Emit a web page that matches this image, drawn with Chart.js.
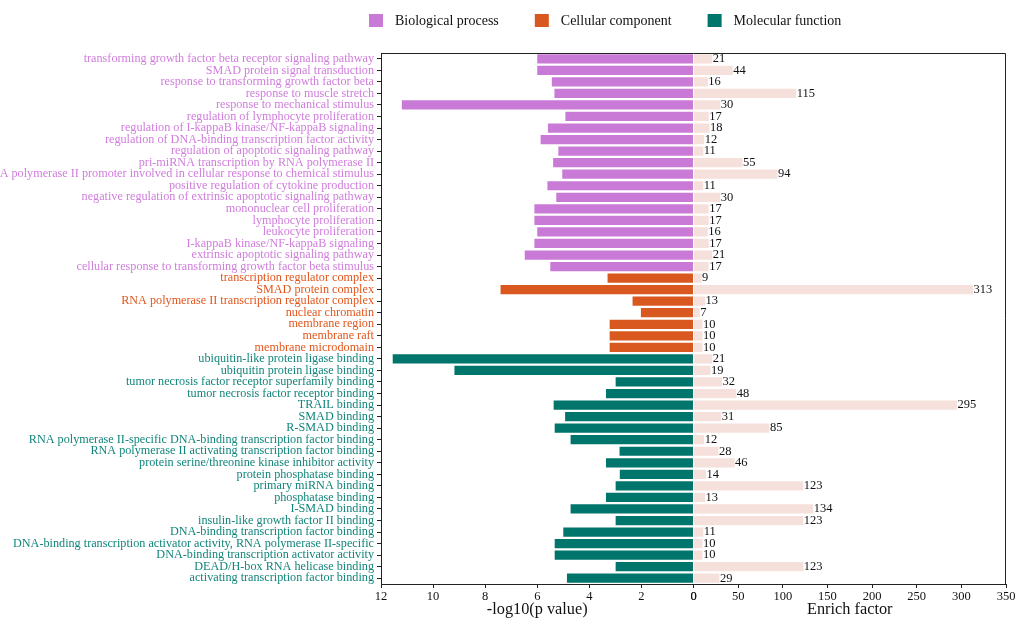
<!DOCTYPE html>
<html>
<head>
<meta charset="utf-8">
<script src="https://cdn.jsdelivr.net/npm/chart.js@4.4.1/dist/chart.umd.min.js"></script>
<style>
  html, body { margin: 0; padding: 0; background: #ffffff; }
  #wrap { width: 1019px; height: 618px; position: relative; }
</style>
</head>
<body>
<div id="wrap"><canvas id="goChart"></canvas></div>
<script>
// GO enrichment terms, top to bottom
const terms = [
  'transforming growth factor beta receptor signaling pathway',
  'SMAD protein signal transduction',
  'response to transforming growth factor beta',
  'response to muscle stretch',
  'response to mechanical stimulus',
  'regulation of lymphocyte proliferation',
  'regulation of I-kappaB kinase/NF-kappaB signaling',
  'regulation of DNA-binding transcription factor activity',
  'regulation of apoptotic signaling pathway',
  'pri-miRNA transcription by RNA polymerase II',
  'transcription from RNA polymerase II promoter involved in cellular response to chemical stimulus',
  'positive regulation of cytokine production',
  'negative regulation of extrinsic apoptotic signaling pathway',
  'mononuclear cell proliferation',
  'lymphocyte proliferation',
  'leukocyte proliferation',
  'I-kappaB kinase/NF-kappaB signaling',
  'extrinsic apoptotic signaling pathway',
  'cellular response to transforming growth factor beta stimulus',
  'transcription regulator complex',
  'SMAD protein complex',
  'RNA polymerase II transcription regulator complex',
  'nuclear chromatin',
  'membrane region',
  'membrane raft',
  'membrane microdomain',
  'ubiquitin-like protein ligase binding',
  'ubiquitin protein ligase binding',
  'tumor necrosis factor receptor superfamily binding',
  'tumor necrosis factor receptor binding',
  'TRAIL binding',
  'SMAD binding',
  'R-SMAD binding',
  'RNA polymerase II-specific DNA-binding transcription factor binding',
  'RNA polymerase II activating transcription factor binding',
  'protein serine/threonine kinase inhibitor activity',
  'protein phosphatase binding',
  'primary miRNA binding',
  'phosphatase binding',
  'I-SMAD binding',
  'insulin-like growth factor II binding',
  'DNA-binding transcription factor binding',
  'DNA-binding transcription activator activity, RNA polymerase II-specific',
  'DNA-binding transcription activator activity',
  'DEAD/H-box RNA helicase binding',
  'activating transcription factor binding'
];

// Ontology group of each term (0 = BP, 1 = CC, 2 = MF)
const termGroup = [
  0,0,0,0,0,0,0,0,0,0,0,0,0,0,0,0,0,0,0,
  1,1,1,1,1,1,1,
  2,2,2,2,2,2,2,2,2,2,2,2,2,2,2,2,2,2,2,2
];

// -log10(p value) per term
const negLog10P = [
  6.0, 6.0, 5.44, 5.34, 11.2, 4.92, 5.59, 5.87, 5.19, 5.39,
  5.04, 5.61, 5.27, 6.11, 6.11, 6.0, 6.11, 6.48, 5.5,
  3.3, 7.41, 2.34, 2.02, 3.22, 3.22, 3.22,
  11.55, 9.18, 2.99, 3.36, 5.37, 4.93, 5.33, 4.72, 2.84, 3.36,
  2.83, 2.99, 3.36, 4.72, 2.99, 5.0, 5.33, 5.33, 2.99, 4.86
];

// Enrich factor per term
const enrichFactor = [
  21, 44, 16, 115, 30, 17, 18, 12, 11, 55, 94, 11, 30, 17, 17, 16, 17, 21, 17,
  9, 313, 13, 7, 10, 10, 10,
  21, 19, 32, 48, 295, 31, 85, 12, 28, 46, 14, 123, 13, 134, 123, 11, 10, 10, 123, 29
];

const groupNames = ['Biological process', 'Cellular component', 'Molecular function'];
const groupBarColors = ['#c97ad6', '#d8581f', '#00756b'];
const groupTextColors = ['#d07ddc', '#e2561c', '#12857b'];
const enrichColor = '#f5e0dc';

const pAxisTicks = { min: 0, max: 12, step: 2 };
const enrichAxisTicks = { min: 0, max: 350, step: 50 };

const serif = "'Liberation Serif', 'Times New Roman', serif";

// Frame line on the top and right of the plotting area
const framePlugin = {
  id: 'frame',
  afterDraw(chart) {
    const { ctx, chartArea: a } = chart;
    ctx.save();
    ctx.strokeStyle = '#222';
    ctx.lineWidth = 1;
    ctx.beginPath();
    ctx.moveTo(a.left, a.top + 0.5);
    ctx.lineTo(a.right - 0.5, a.top + 0.5);
    ctx.lineTo(a.right - 0.5, a.bottom);
    ctx.stroke();
    ctx.restore();
  }
};

// Enrich factor numbers at the end of each bar
const valueLabelPlugin = {
  id: 'valueLabels',
  afterDatasetsDraw(chart) {
    const { ctx } = chart;
    const meta = chart.getDatasetMeta(1);
    const values = chart.data.datasets[1].data;
    ctx.save();
    ctx.font = '12.5px ' + serif;
    ctx.fillStyle = '#111';
    ctx.textAlign = 'left';
    ctx.textBaseline = 'middle';
    meta.data.forEach((bar, i) => {
      ctx.fillText(String(values[i]), bar.x + 0.5, bar.y);
    });
    ctx.restore();
  }
};

// Legend for the three ontology groups
const groupLegendPlugin = {
  id: 'groupLegend',
  afterDraw(chart) {
    const { ctx } = chart;
    ctx.save();
    ctx.font = '14px ' + serif;
    ctx.textBaseline = 'middle';
    ctx.textAlign = 'left';
    let x = 369;
    const y = 21;
    groupNames.forEach((name, i) => {
      ctx.fillStyle = groupBarColors[i];
      ctx.fillRect(x, y - 7, 14, 13);
      ctx.fillStyle = '#111';
      ctx.fillText(name, x + 26, y);
      x += 26 + ctx.measureText(name).width + 36;
    });
    ctx.restore();
  }
};

new Chart(document.getElementById('goChart'), {
  type: 'bar',
  data: {
    labels: terms,
    datasets: [
      {
        label: '-log10(p value)',
        data: negLog10P,
        xAxisID: 'xp',
        yAxisID: 'y',
        backgroundColor: termGroup.map(g => groupBarColors[g]),
        grouped: false,
        barPercentage: 0.8,
        categoryPercentage: 1
      },
      {
        label: 'Enrich factor',
        data: enrichFactor,
        xAxisID: 'xe',
        yAxisID: 'y',
        backgroundColor: enrichColor,
        grouped: false,
        barPercentage: 0.8,
        categoryPercentage: 1
      }
    ]
  },
  options: {
    indexAxis: 'y',
    responsive: true,
    maintainAspectRatio: false,
    devicePixelRatio: 1,
    animation: false,
    layout: { padding: { left: 0, right: 13, top: 53, bottom: 0 } },
    plugins: {
      legend: { display: false },
      tooltip: { enabled: false }
    },
    scales: {
      y: {
        type: 'category',
        position: 'left',
        afterFit(scale) { scale.width = 381; },
        grid: {
          display: true,
          drawOnChartArea: false,
          drawTicks: true,
          tickLength: 4,
          offset: false,
          color: '#222'
        },
        border: { display: true, color: '#222', width: 1 },
        ticks: {
          autoSkip: false,
          padding: 3,
          font: { family: serif, size: 12.2 },
          color: ctx => groupTextColors[termGroup[ctx.index]]
        }
      },
      xp: {
        type: 'linear',
        position: 'bottom',
        stack: 'bottom',
        stackWeight: 1,
        reverse: true,
        min: pAxisTicks.min,
        max: pAxisTicks.max,
        afterFit(scale) { scale.height = 34; },
        grid: { display: true, drawOnChartArea: false, drawTicks: true, tickLength: 4, color: '#222' },
        border: { display: true, color: '#222', width: 1 },
        ticks: {
          stepSize: pAxisTicks.step,
          padding: 2,
          color: '#111',
          font: { family: serif, size: 12.5, lineHeight: 1 }
        },
        title: {
          display: true,
          text: '-log10(p value)',
          color: '#111',
          padding: 0,
          font: { family: serif, size: 16.3, lineHeight: 1 }
        }
      },
      xe: {
        type: 'linear',
        position: 'bottom',
        stack: 'bottom',
        stackWeight: 1,
        min: enrichAxisTicks.min,
        max: enrichAxisTicks.max,
        afterFit(scale) { scale.height = 34; },
        grid: { display: true, drawOnChartArea: false, drawTicks: true, tickLength: 4, color: '#222' },
        border: { display: true, color: '#222', width: 1 },
        ticks: {
          stepSize: enrichAxisTicks.step,
          padding: 2,
          color: '#111',
          font: { family: serif, size: 12.5, lineHeight: 1 }
        },
        title: {
          display: true,
          text: 'Enrich factor',
          color: '#111',
          padding: 0,
          font: { family: serif, size: 16.3, lineHeight: 1 }
        }
      }
    }
  },
  plugins: [framePlugin, valueLabelPlugin, groupLegendPlugin]
});
</script>
</body>
</html>
